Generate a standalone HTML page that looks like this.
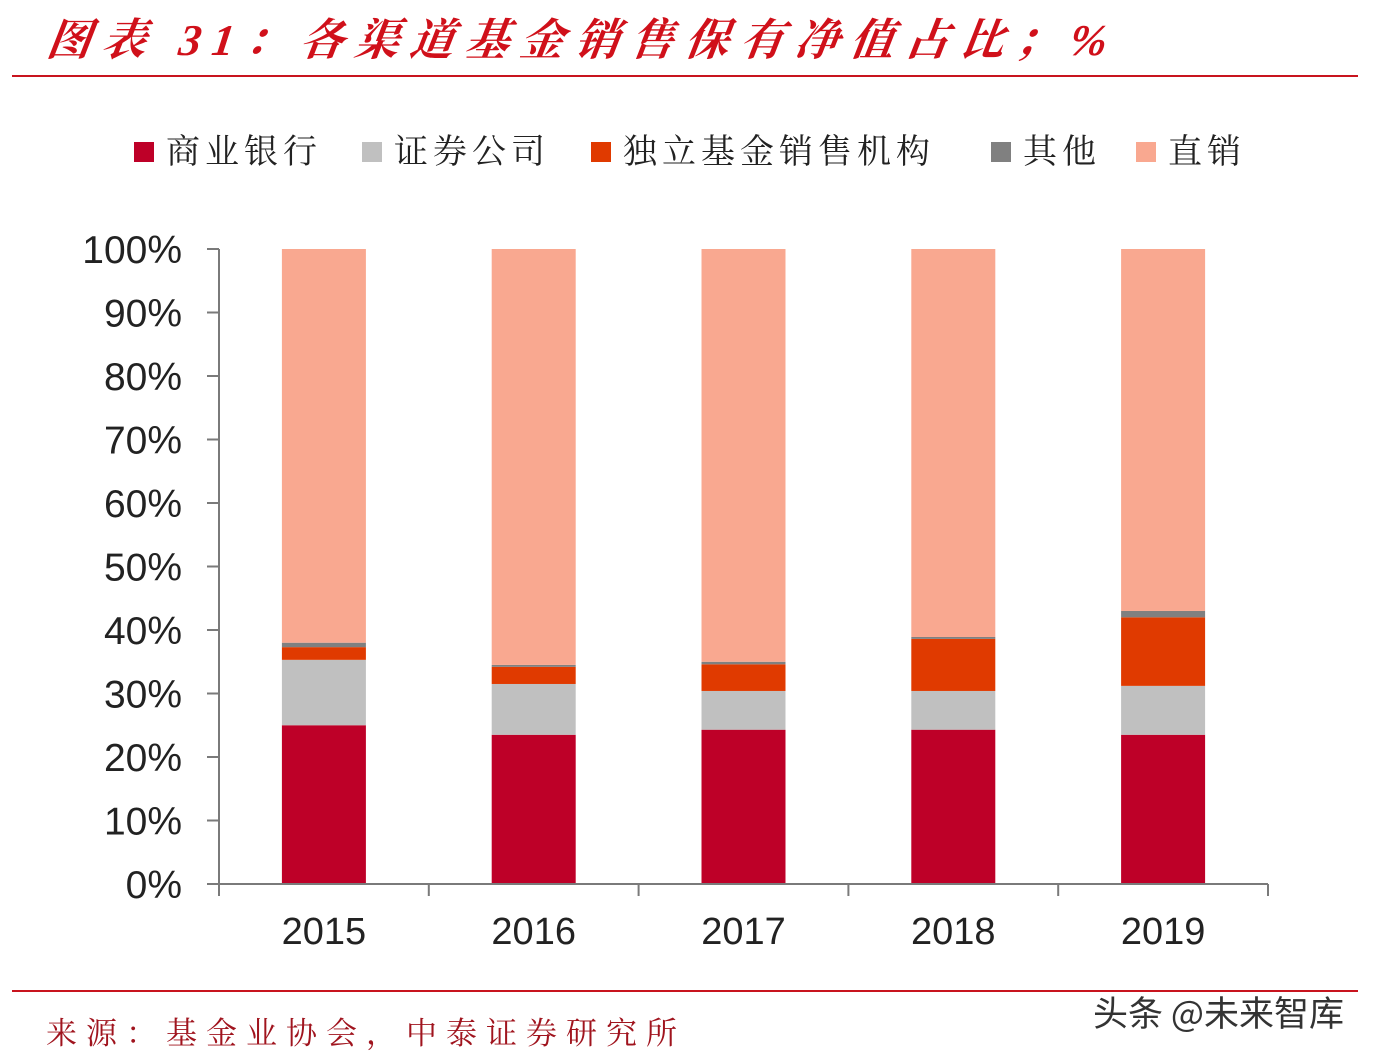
<!DOCTYPE html>
<html><head><meta charset="utf-8"><style>
body{margin:0;background:#fff;width:1374px;height:1058px;overflow:hidden;position:relative;font-family:"Liberation Sans","Noto Sans CJK SC",sans-serif}
.abs{position:absolute}
</style></head><body>
<div class="abs" style="left:48px;top:4px;font:italic bold 44px 'Liberation Serif','Noto Serif CJK SC',serif;letter-spacing:11px;color:#D0101A;white-space:nowrap;transform:skewX(-8deg)">图表 31：各渠道基金销售保有净值占比；%</div>
<div class="abs" style="left:12px;top:75px;width:1346px;height:2px;background:#C8141E"></div>
<div class="abs" style="left:12px;top:990px;width:1346px;height:2px;background:#C8141E"></div>
<div class="abs" style="left:46px;top:1008px;font:31px 'Noto Serif CJK SC',serif;letter-spacing:9px;color:#A0141E;white-space:nowrap">来源：基金业协会，中泰证券研究所</div>
<div class="abs" style="left:1093px;top:986px;font:35px 'Noto Sans CJK SC',sans-serif;color:#333;white-space:nowrap">头条 @未来智库</div>
<svg id="chart" class="abs" style="left:0;top:0" width="1374" height="1058"></svg>
<script>
const categories=["2015","2016","2017","2018","2019"];
const seriesNames=["商业银行","证券公司","独立基金销售机构","其他","直销"];
const bank=[25.0,23.5,24.3,24.3,23.5];
const securities=[10.3,8.0,6.1,6.1,7.7];
const independent=[2.0,2.7,4.2,8.2,10.8];
const other=[0.7,0.3,0.4,0.3,1.0];
const direct=[62.0,65.5,65.0,61.1,57.0];
const yTicks=[0,10,20,30,40,50,60,70,80,90,100];
const colors=["#BE0028","#C0C0C0","#E03A00","#808080","#F9A890"];
const svg=document.getElementById('chart');const NS="http://www.w3.org/2000/svg";
const y0=884,y1=249,xL=219,xR=1268;
const Y=v=>y0-(v/100)*(y0-y1);
const band=(xR-xL)/categories.length;
const X=i=>xL+band*(i+0.5);
function mk(t,a){const e=document.createElementNS(NS,t);for(const k in a)e.setAttribute(k,a[k]);svg.appendChild(e);return e;}
const series=[bank,securities,independent,other,direct];
categories.forEach((c,i)=>{let acc=0;series.forEach((s,j)=>{const r=mk('rect',{x:X(i)-42,y:Y(acc+s[i]),width:84,height:Y(acc)-Y(acc+s[i]),fill:colors[j]});


acc+=s[i];});
const t=mk('text',{x:X(i),y:944,'text-anchor':'middle','font-size':38,fill:'#222','font-family':'Liberation Sans, sans-serif'});t.textContent=c;


});
const ax=mk('path',{d:`M${xL} ${y1}V${y0+12}M${xL-12} ${y0}H${xR}`,stroke:'#7a7a7a','stroke-width':2,fill:'none'});


yTicks.forEach(v=>{mk('line',{x1:xL-12,x2:xL,y1:Y(v),y2:Y(v),stroke:'#7a7a7a','stroke-width':2});
const t=mk('text',{x:182,y:Y(v)+14,'text-anchor':'end','font-size':39,fill:'#222','font-family':'Liberation Sans, sans-serif'});t.textContent=v+'%';

});
for(let i=0;i<=categories.length;i++){mk('line',{x1:xL+band*i,x2:xL+band*i,y1:y0,y2:y0+12,stroke:'#7a7a7a','stroke-width':2});}
const legX=[134,362,591,991,1136];
seriesNames.forEach((n,j)=>{const g=mk('g',{});
const r=document.createElementNS(NS,'rect');r.setAttribute('x',legX[j]);r.setAttribute('y',142);r.setAttribute('width',20);r.setAttribute('height',20);r.setAttribute('fill',colors[j]);g.appendChild(r);
const t=document.createElementNS(NS,'text');t.setAttribute('x',legX[j]+32);t.setAttribute('y',163);t.setAttribute('font-size',34);t.setAttribute('letter-spacing',5);t.setAttribute('fill','#222');t.setAttribute('font-family','Noto Serif CJK SC, serif');t.textContent=n;g.appendChild(t);});
</script>
</body></html>
